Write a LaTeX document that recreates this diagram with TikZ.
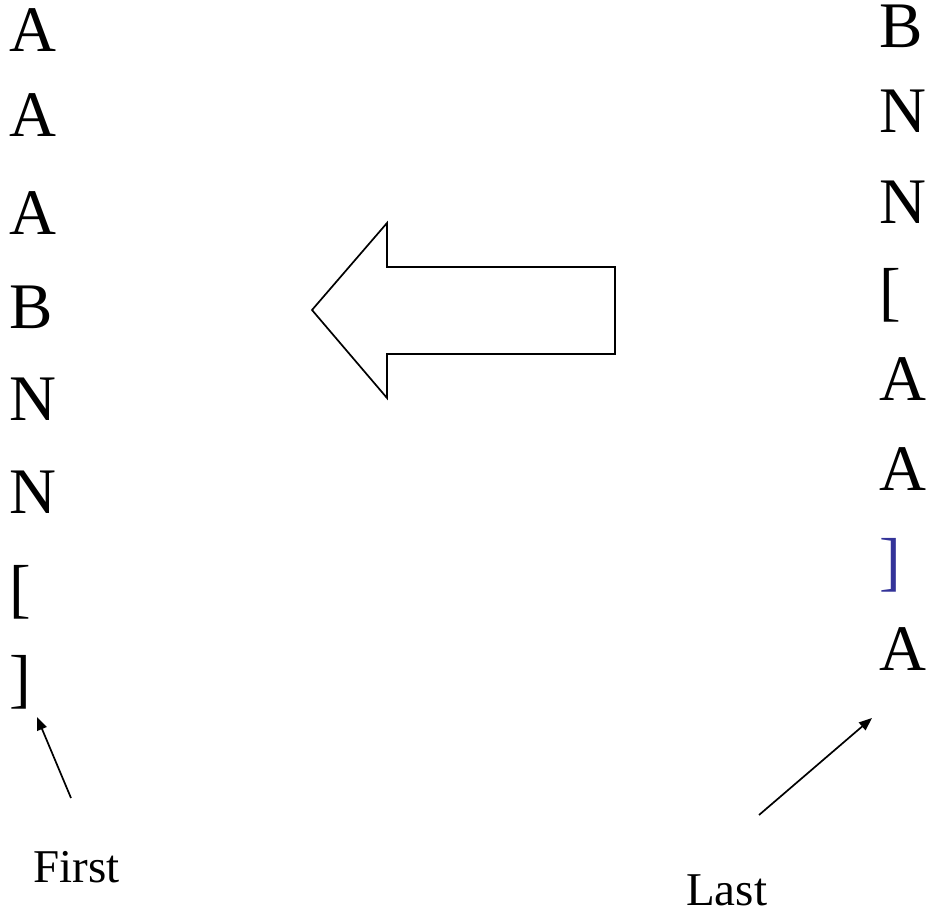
\documentclass[tikz,border=0pt]{standalone}
\usepackage{fontspec}
\setmainfont{Liberation Serif}
\usetikzlibrary{arrows.meta}
\definecolor{bracketblue}{RGB}{51,51,153}
\begin{document}
\begin{tikzpicture}[x=1pt,y=-1pt,
  letter/.style={inner sep=0pt,anchor=base west,font=\fontsize{65}{78}\selectfont},
  caption/.style={inner sep=0pt,anchor=base west,font=\fontsize{47}{56}\selectfont},
  pointer/.style={line width=1.7pt,-{Triangle[length=13pt,width=10pt]}},
  blockarrow/.style={line width=1.7pt,line join=miter}]
\useasboundingbox (0,0) rectangle (928,912);
% left column
\node[letter] (l1) at (9,52) {A};
\node[letter] (l2) at (9,137) {A};
\node[letter] (l3) at (9,234) {A};
\node[letter] (l4) at (9,328) {B};
\node[letter] (l5) at (9,420) {N};
\node[letter] (l6) at (9,513) {N};
\node[letter] (l7) at (9,610) {[};
\node[letter] (l8) at (9,700) {]};
% right column
\node[letter] (r1) at (879,48) {B};
\node[letter] (r2) at (879,133) {N};
\node[letter] (r3) at (879,223) {N};
\node[letter] (r4) at (879,313) {[};
\node[letter] (r5) at (879,400) {A};
\node[letter] (r6) at (879,490) {A};
\node[letter,text=bracketblue] (r7) at (879,583) {]};
\node[letter] (r8) at (879,670) {A};
% captions
\node[caption] (first) at (33,882) {First};
\node[caption] (last) at (686,905) {Last};
% pointers
\coordinate (ftail) at (71,798);
\coordinate (ftip) at (37,717);
\coordinate (ltail) at (759,815);
\coordinate (ltip) at (872,718);
\draw[pointer] (ftail) -- (ftip);
\draw[pointer] (ltail) -- (ltip);
% block arrow
\draw[blockarrow] (312,310) -- (387,223) -- (387,267) -- (615,267) -- (615,354) -- (387,354) -- (387,398) -- cycle;
\end{tikzpicture}
\end{document}
